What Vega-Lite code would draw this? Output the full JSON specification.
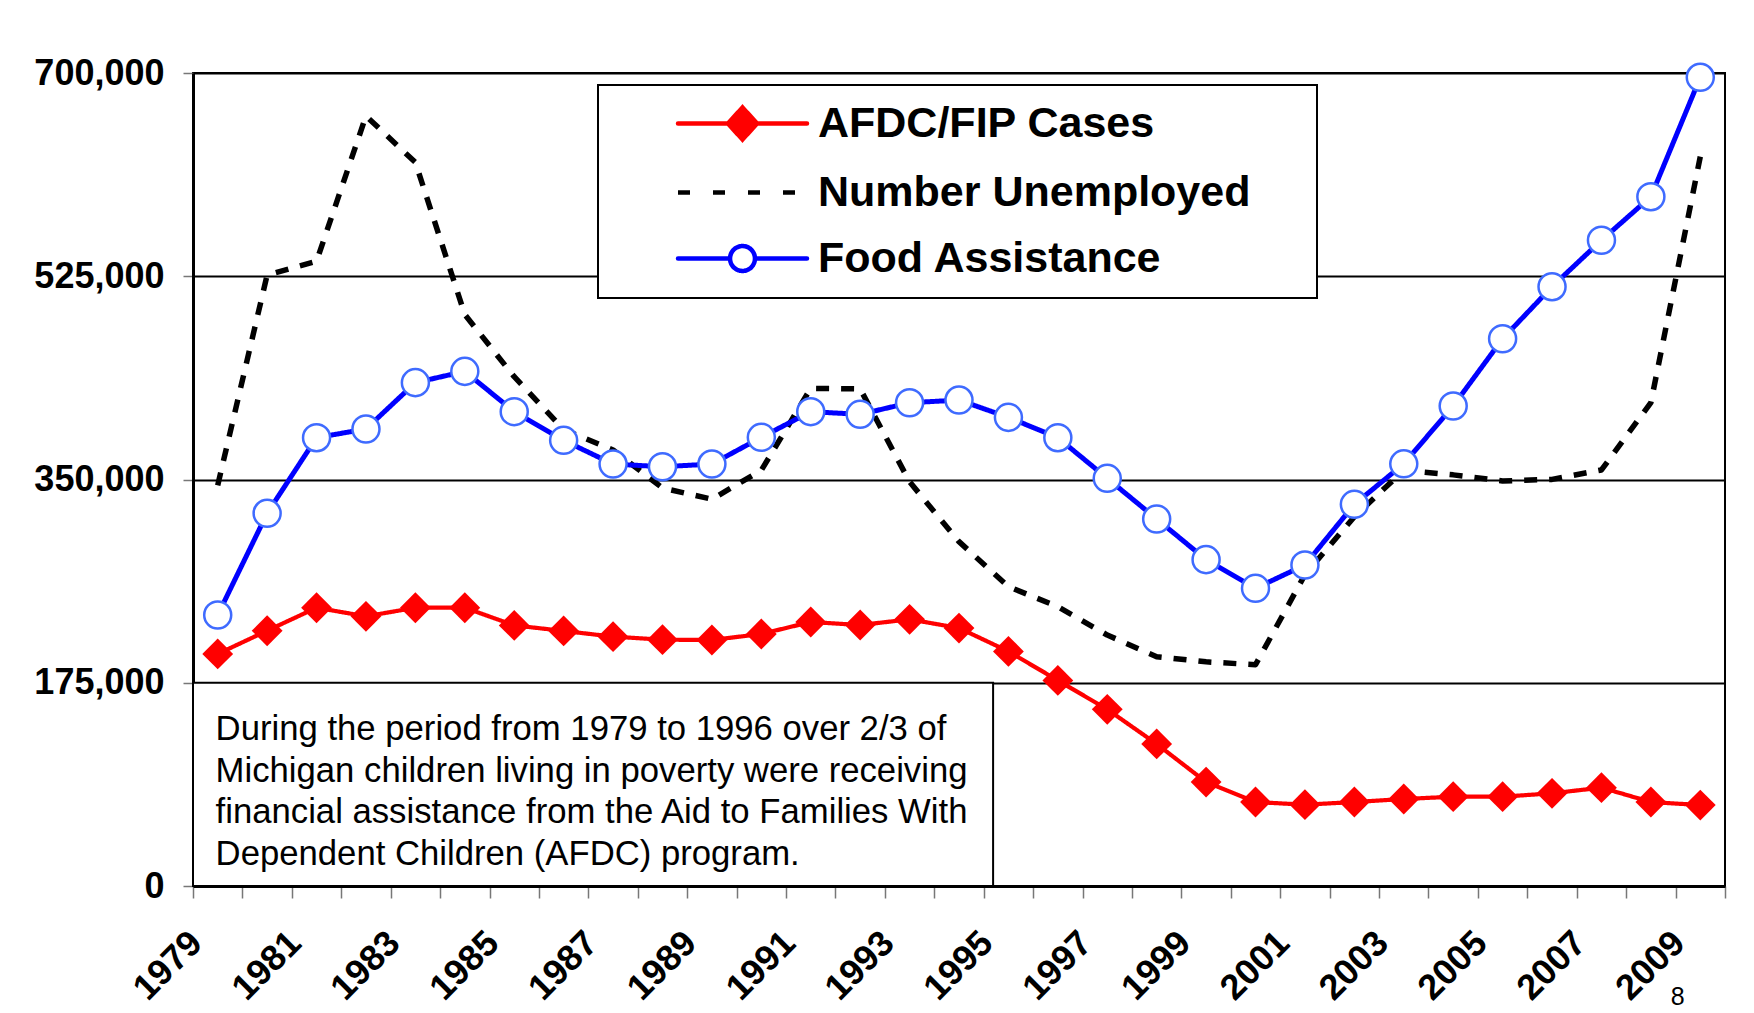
{
  "$schema": "https://vega.github.io/schema/vega-lite/v6.json",
  "width": 1532,
  "height": 813,
  "autosize": {"type": "none"},
  "padding": {"left": 193, "top": 73, "right": 29, "bottom": 127},
  "background": "white",
  "config": {
    "view": {"stroke": "black", "strokeWidth": 2},
    "font": "Liberation Sans"
  },
  "title": {
    "text": "8",
    "orient": "bottom",
    "anchor": "end",
    "baseline": "bottom",
    "offset": 4,
    "dx": -56,
    "font": "Liberation Sans",
    "fontSize": 25,
    "fontWeight": "normal",
    "color": "black"
  },
  "data": {
    "values": [
      {"series": "AFDC/FIP Cases", "year": 1979, "value": 199800},
      {"series": "AFDC/FIP Cases", "year": 1980, "value": 219800},
      {"series": "AFDC/FIP Cases", "year": 1981, "value": 239600},
      {"series": "AFDC/FIP Cases", "year": 1982, "value": 232200},
      {"series": "AFDC/FIP Cases", "year": 1983, "value": 239600},
      {"series": "AFDC/FIP Cases", "year": 1984, "value": 239600},
      {"series": "AFDC/FIP Cases", "year": 1985, "value": 224400},
      {"series": "AFDC/FIP Cases", "year": 1986, "value": 219600},
      {"series": "AFDC/FIP Cases", "year": 1987, "value": 214700},
      {"series": "AFDC/FIP Cases", "year": 1988, "value": 212100},
      {"series": "AFDC/FIP Cases", "year": 1989, "value": 211800},
      {"series": "AFDC/FIP Cases", "year": 1990, "value": 217000},
      {"series": "AFDC/FIP Cases", "year": 1991, "value": 227300},
      {"series": "AFDC/FIP Cases", "year": 1992, "value": 224700},
      {"series": "AFDC/FIP Cases", "year": 1993, "value": 229600},
      {"series": "AFDC/FIP Cases", "year": 1994, "value": 222100},
      {"series": "AFDC/FIP Cases", "year": 1995, "value": 202000},
      {"series": "AFDC/FIP Cases", "year": 1996, "value": 177000},
      {"series": "AFDC/FIP Cases", "year": 1997, "value": 152100},
      {"series": "AFDC/FIP Cases", "year": 1998, "value": 122300},
      {"series": "AFDC/FIP Cases", "year": 1999, "value": 89500},
      {"series": "AFDC/FIP Cases", "year": 2000, "value": 72300},
      {"series": "AFDC/FIP Cases", "year": 2001, "value": 70000},
      {"series": "AFDC/FIP Cases", "year": 2002, "value": 72300},
      {"series": "AFDC/FIP Cases", "year": 2003, "value": 74900},
      {"series": "AFDC/FIP Cases", "year": 2004, "value": 76900},
      {"series": "AFDC/FIP Cases", "year": 2005, "value": 76900},
      {"series": "AFDC/FIP Cases", "year": 2006, "value": 79800},
      {"series": "AFDC/FIP Cases", "year": 2007, "value": 84700},
      {"series": "AFDC/FIP Cases", "year": 2008, "value": 72300},
      {"series": "AFDC/FIP Cases", "year": 2009, "value": 69700},
      {"series": "Number Unemployed", "year": 1979, "value": 345000},
      {"series": "Number Unemployed", "year": 1980, "value": 526000},
      {"series": "Number Unemployed", "year": 1981, "value": 538000},
      {"series": "Number Unemployed", "year": 1982, "value": 663000},
      {"series": "Number Unemployed", "year": 1983, "value": 623000},
      {"series": "Number Unemployed", "year": 1984, "value": 492000},
      {"series": "Number Unemployed", "year": 1985, "value": 438500},
      {"series": "Number Unemployed", "year": 1986, "value": 393000},
      {"series": "Number Unemployed", "year": 1987, "value": 375400},
      {"series": "Number Unemployed", "year": 1988, "value": 342700},
      {"series": "Number Unemployed", "year": 1989, "value": 333000},
      {"series": "Number Unemployed", "year": 1990, "value": 358000},
      {"series": "Number Unemployed", "year": 1991, "value": 428500},
      {"series": "Number Unemployed", "year": 1992, "value": 428000},
      {"series": "Number Unemployed", "year": 1993, "value": 348000},
      {"series": "Number Unemployed", "year": 1994, "value": 296500},
      {"series": "Number Unemployed", "year": 1995, "value": 257700},
      {"series": "Number Unemployed", "year": 1996, "value": 240500},
      {"series": "Number Unemployed", "year": 1997, "value": 216100},
      {"series": "Number Unemployed", "year": 1998, "value": 197400},
      {"series": "Number Unemployed", "year": 1999, "value": 193000},
      {"series": "Number Unemployed", "year": 2000, "value": 190500},
      {"series": "Number Unemployed", "year": 2001, "value": 268000},
      {"series": "Number Unemployed", "year": 2002, "value": 318000},
      {"series": "Number Unemployed", "year": 2003, "value": 358000},
      {"series": "Number Unemployed", "year": 2004, "value": 354000},
      {"series": "Number Unemployed", "year": 2005, "value": 348700},
      {"series": "Number Unemployed", "year": 2006, "value": 350100},
      {"series": "Number Unemployed", "year": 2007, "value": 358200},
      {"series": "Number Unemployed", "year": 2008, "value": 416200},
      {"series": "Number Unemployed", "year": 2009, "value": 628000},
      {"series": "Food Assistance", "year": 1979, "value": 233300},
      {"series": "Food Assistance", "year": 1980, "value": 320900},
      {"series": "Food Assistance", "year": 1981, "value": 386000},
      {"series": "Food Assistance", "year": 1982, "value": 393500},
      {"series": "Food Assistance", "year": 1983, "value": 433400},
      {"series": "Food Assistance", "year": 1984, "value": 443100},
      {"series": "Food Assistance", "year": 1985, "value": 408400},
      {"series": "Food Assistance", "year": 1986, "value": 383700},
      {"series": "Food Assistance", "year": 1987, "value": 363300},
      {"series": "Food Assistance", "year": 1988, "value": 361000},
      {"series": "Food Assistance", "year": 1989, "value": 363300},
      {"series": "Food Assistance", "year": 1990, "value": 386300},
      {"series": "Food Assistance", "year": 1991, "value": 408400},
      {"series": "Food Assistance", "year": 1992, "value": 406100},
      {"series": "Food Assistance", "year": 1993, "value": 416100},
      {"series": "Food Assistance", "year": 1994, "value": 418400},
      {"series": "Food Assistance", "year": 1995, "value": 403500},
      {"series": "Food Assistance", "year": 1996, "value": 386000},
      {"series": "Food Assistance", "year": 1997, "value": 351000},
      {"series": "Food Assistance", "year": 1998, "value": 316000},
      {"series": "Food Assistance", "year": 1999, "value": 281000},
      {"series": "Food Assistance", "year": 2000, "value": 256300},
      {"series": "Food Assistance", "year": 2001, "value": 276400},
      {"series": "Food Assistance", "year": 2002, "value": 328600},
      {"series": "Food Assistance", "year": 2003, "value": 363500},
      {"series": "Food Assistance", "year": 2004, "value": 413300},
      {"series": "Food Assistance", "year": 2005, "value": 471200},
      {"series": "Food Assistance", "year": 2006, "value": 516000},
      {"series": "Food Assistance", "year": 2007, "value": 556000},
      {"series": "Food Assistance", "year": 2008, "value": 593500},
      {"series": "Food Assistance", "year": 2009, "value": 696300}
    ]
  },
  "layer": [
    {
      "data": {"values": [{"note": "box"}]},
      "mark": {"type": "rect", "fill": "white", "stroke": "black", "strokeWidth": 2},
      "encoding": {
        "x": {"datum": 1978.5, "type": "quantitative"},
        "x2": {"datum": 1994.69},
        "y": {"datum": 0, "type": "quantitative"},
        "y2": {"datum": 175000}
      }
    },
    {
      "data": {"values": [{"note": "text"}]},
      "mark": {
        "type": "text",
        "align": "left",
        "baseline": "middle",
        "font": "Liberation Sans",
        "fontSize": 34.7,
        "lineHeight": 41.7,
        "color": "black",
        "text": [
          "During the period from 1979 to 1996 over 2/3 of",
          "Michigan children living in poverty were receiving",
          "financial assistance from the Aid to Families With",
          "Dependent Children (AFDC) program."
        ]
      },
      "encoding": {
        "x": {"datum": 1978.957, "type": "quantitative"},
        "y": {"datum": 134300, "type": "quantitative"}
      }
    },
    {
      "mark": {"type": "line", "strokeJoin": "round"},
      "encoding": {
        "x": {
          "field": "year",
          "type": "quantitative",
          "scale": {"domain": [1978.5, 2009.5], "nice": false, "zero": false},
          "axis": {
            "title": null,
            "values": [1978.5, 1979.5, 1980.5, 1981.5, 1982.5, 1983.5, 1984.5, 1985.5, 1986.5, 1987.5, 1988.5, 1989.5, 1990.5, 1991.5, 1992.5, 1993.5, 1994.5, 1995.5, 1996.5, 1997.5, 1998.5, 1999.5, 2000.5, 2001.5, 2002.5, 2003.5, 2004.5, 2005.5, 2006.5, 2007.5, 2008.5, 2009.5],
            "labelExpr": "((datum.value + 0.5) % 2 == 1 && datum.value < 2009) ? '' + (datum.value + 0.5) : ''",
            "grid": false,
            "domainColor": "black",
            "domainWidth": 3,
            "tickColor": "#777777",
            "tickSize": 12,
            "tickWidth": 1.5,
            "labelAngle": -45,
            "labelAlign": "right",
            "labelBaseline": "middle",
            "labelPadding": 39,
            "labelOffset": 3,
            "labelFont": "Liberation Sans",
            "labelFontSize": 36,
            "labelFontWeight": "bold",
            "labelColor": "black",
            "labelFlush": false,
            "labelOverlap": false,
            "labelBound": false
          }
        },
        "y": {
          "field": "value",
          "type": "quantitative",
          "scale": {"domain": [0, 700000], "nice": false},
          "axis": {
            "title": null,
            "values": [0, 175000, 350000, 525000, 700000],
            "format": ",.0f",
            "grid": true,
            "gridColor": "black",
            "gridWidth": 2,
            "gridOpacity": 1,
            "domainColor": "black",
            "domainWidth": 3,
            "tickColor": "#777777",
            "tickSize": 10,
            "tickWidth": 1.5,
            "labelPadding": 19,
            "labelFont": "Liberation Sans",
            "labelFontSize": 36,
            "labelFontWeight": "bold",
            "labelColor": "black",
            "labelFlush": false,
            "labelOverlap": false
          }
        },
        "strokeWidth": {
          "condition": [
            {"test": "datum.series === 'Number Unemployed'", "value": 5.5},
            {"test": "datum.series === 'AFDC/FIP Cases'", "value": 4.2}
          ],
          "value": 5
        },
        "strokeDash": {
          "condition": {"test": "datum.series === 'Number Unemployed'", "value": [13, 12]},
          "value": [1, 0]
        },
        "color": {
          "field": "series",
          "type": "nominal",
          "sort": null,
          "scale": {
            "domain": ["AFDC/FIP Cases", "Number Unemployed", "Food Assistance"],
            "range": ["#FF0000", "#000000", "#0000FF"]
          },
          "legend": {
            "orient": "none",
            "legendX": 405,
            "legendY": 12,
            "title": null,
            "fillColor": "white",
            "strokeColor": "black",
            "padding": 17,
            "rowPadding": 22,
            "symbolSize": 900,
            "symbolOffset": 106,
            "labelOffset": 54,
            "labelFont": "Liberation Sans",
            "labelFontSize": 43,
            "labelFontWeight": "bold",
            "labelColor": "black",
            "labelLimit": 0,
            "encode": {
              "legend": {"update": {"strokeWidth": {"value": 2}}},
              "symbols": {
                "update": {
                  "shape": {"signal": "datum.value === 'AFDC/FIP Cases' ? 'M36.53,0M-4.3,0L4.3,0M0,-1.07L0.97,0L0,1.07L-0.97,0Z' : datum.value === 'Number Unemployed' ? 'M36.53,0M-4.3,0L4.3,0' : 'M36.53,0M-4.3,0L-0.83,0M0.83,0L4.3,0M0.83,0A0.83,0.83,0,1,1,-0.83,0A0.83,0.83,0,1,1,0.83,0Z'"},
                  "fill": {"signal": "datum.value === 'AFDC/FIP Cases' ? '#FF0000' : datum.value === 'Number Unemployed' ? 'transparent' : '#FFFFFF'"},
                  "stroke": {"signal": "datum.value === 'AFDC/FIP Cases' ? '#FF0000' : datum.value === 'Number Unemployed' ? '#000000' : '#0000FF'"},
                  "strokeWidth": {"value": 4.5},
                  "strokeCap": {"signal": "datum.value === 'Number Unemployed' ? 'butt' : 'round'"},
                  "strokeDash": {"signal": "datum.value === 'Number Unemployed' ? [12, 23] : [1, 0]"},
                  "opacity": {"value": 1},
                  "fillOpacity": {"value": 1},
                  "strokeOpacity": {"value": 1}
                }
              }
            }
          }
        }
      }
    },
    {
      "transform": [{"filter": "datum.series === 'AFDC/FIP Cases'"}],
      "mark": {"type": "point", "shape": "diamond", "filled": true, "fill": "#FF0000", "size": 950, "opacity": 1, "strokeWidth": 0},
      "encoding": {
        "x": {"field": "year", "type": "quantitative"},
        "y": {"field": "value", "type": "quantitative"}
      }
    },
    {
      "transform": [{"filter": "datum.series === 'Food Assistance'"}],
      "mark": {"type": "point", "shape": "circle", "filled": true, "fill": "#FFFFFF", "stroke": "#3F6BFF", "strokeWidth": 2.5, "size": 730, "opacity": 1},
      "encoding": {
        "x": {"field": "year", "type": "quantitative"},
        "y": {"field": "value", "type": "quantitative"}
      }
    }
  ]
}
